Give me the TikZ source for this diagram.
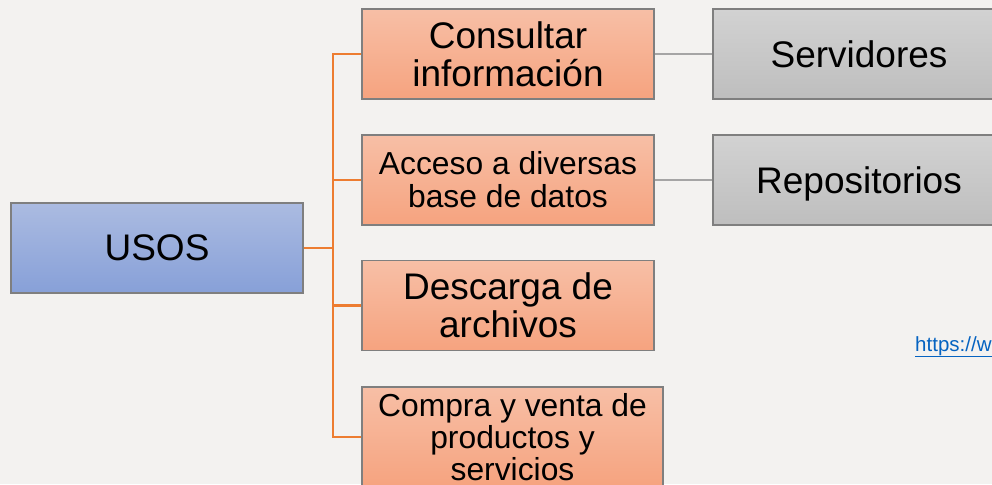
\documentclass[tikz,border=0pt]{standalone}
\usepackage{fontspec}
\setmainfont{Liberation Sans}
\definecolor{bgc}{HTML}{F3F2F0}
\definecolor{edgec}{HTML}{7F7F7F}
\definecolor{orangeline}{HTML}{ED7D31}
\definecolor{grayline}{HTML}{A5A5A5}
\definecolor{linkc}{HTML}{0563C1}
\newcommand{\bigtxt}{\fontsize{37}{38}\selectfont}
\newcommand{\smalltxt}{\fontsize{31.8}{33}\selectfont}
\newcommand{\tighttxt}{\fontsize{31.8}{32.2}\selectfont}
\tikzset{
  x=1pt,y=-1pt,
  boxbase/.style={draw=edgec,line width=1.2pt,inner sep=0pt,align=center,text=black,minimum width=292pt,minimum height=90pt,anchor=center},
  bluebox/.style={boxbase,top color=bluetop,bottom color=bluebot},
  orangebox/.style={boxbase,top color=ortop,bottom color=orbot},
  graybox/.style={boxbase,top color=graytop,bottom color=graybot,text height=26.6pt,text depth=0pt},
  orangelink/.style={draw=orangeline,line width=2.6pt},
  graylink/.style={draw=grayline,line width=2.4pt},
}
\definecolor{bluetop}{HTML}{ABBBE1}
\definecolor{bluebot}{HTML}{87A0D8}
\definecolor{ortop}{HTML}{F7BFA6}
\definecolor{orbot}{HTML}{F6A37F}
\definecolor{graytop}{HTML}{D2D2D2}
\definecolor{graybot}{HTML}{BEBEBE}
\begin{document}
\begin{tikzpicture}
\useasboundingbox (0,0) rectangle (992,484);
\clip (0,0) rectangle (992,484);
\fill[bgc] (0,0) rectangle (992,484);
\node[bluebox,font=\bigtxt] (usos) at (157,248) {USOS};
\node[orangebox,font=\bigtxt] (c1) at (508,54) {Consultar\\información};
\node[orangebox,font=\smalltxt] (c2) at (508,180) {Acceso a diversas\\base de datos};
\node[orangebox,font=\bigtxt] (c3) at (508,305.5) {Descarga de\\archivos};
\node[orangebox,font=\tighttxt,minimum width=301pt,minimum height=100pt] (c4) at (512.5,437) {Compra y venta de\\productos y\\servicios};
\node[graybox,font=\bigtxt] (s1) at (859,54) {Servidores};
\node[graybox,font=\bigtxt] (s2) at (859,180) {Repositorios};
\node[inner sep=0pt,anchor=base west,text=linkc,font=\fontsize{20.5}{22}\selectfont] (lnk) at (915,351) {\underline{https://w}};
\coordinate (trunk) at (333,248);
\draw[orangelink] (usos.east) -- (trunk);
\draw[orangelink] (c1.west) -- (c1.west -| trunk) -- (c4.west -| trunk) -- (c4.west);
\draw[orangelink] (c2.west) -- (c2.west -| trunk);
\draw[orangelink] (c3.west) -- (c3.west -| trunk);
\draw[graylink] (c1.east) -- (s1.west);
\draw[graylink] (c2.east) -- (s2.west);
\end{tikzpicture}
\end{document}
